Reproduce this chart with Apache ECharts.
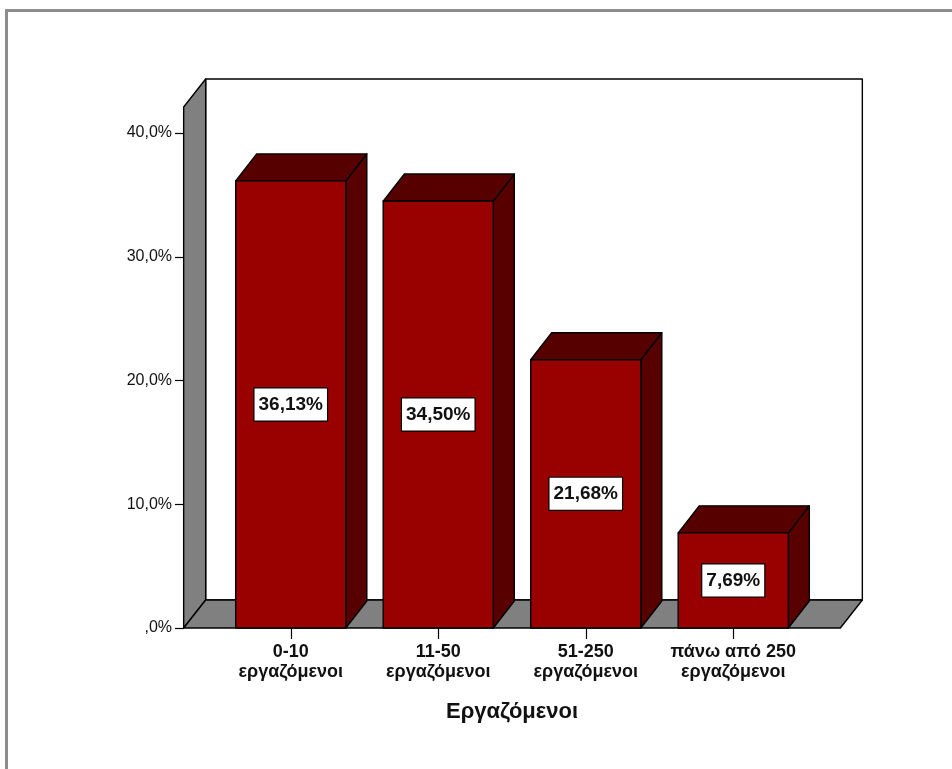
<!DOCTYPE html>
<html>
<head>
<meta charset="utf-8">
<script src="https://cdn.jsdelivr.net/npm/echarts@6/dist/echarts.min.js"></script>
<style>
  html, body { margin: 0; padding: 0; background: #fff; }
  #chart { width: 952px; height: 769px; }
</style>
</head>
<body>
<div id="chart"></div>
<script>
// Share of firms by number of employees
const categories = ['0-10\nεργαζόμενοι', '11-50\nεργαζόμενοι', '51-250\nεργαζόμενοι', 'πάνω από 250\nεργαζόμενοι'];
const percentages = [36.13, 34.50, 21.68, 7.69];
const yTicks = [0, 10, 20, 30, 40];
const axisTitle = 'Εργαζόμενοι';

const FONT = '"Liberation Sans", Arial, Helvetica, sans-serif';
const WALL_DX = 22, WALL_DY = 28;   // receding offset of the back plane
const BAR_DX = 21, BAR_DY = 27;     // receding offset of each bar
const WALL_PAD = 0.226;             // floor overhang beyond the outer bands, in bands
const WALL_TOP = 42.1;              // value reached by the front edge of the side wall
const BAR_FRACTION = 0.7466;        // bar width as a share of the band

function fmtPct(v, digits) {
  let s = Number(v).toFixed(digits).replace('.', ',');
  if (s.indexOf('0,') === 0) s = s.slice(1);
  return s + '%';
}

const edge = { stroke: '#000', lineWidth: 1.4, lineJoin: 'round' };

// side wall, floor and back wall of the 3D box
function renderWalls(params, api) {
  const band = api.size([1, 0])[0];
  const first = api.coord([0, 0]);
  const last = api.coord([categories.length - 1, 0]);
  const x0 = first[0] - band * (0.5 + WALL_PAD);
  const x1 = last[0] + band * (0.5 + WALL_PAD);
  const y0 = first[1];
  const yTop = api.coord([0, WALL_TOP])[1];
  const bx0 = x0 + WALL_DX, bx1 = x1 + WALL_DX;
  const by0 = y0 - WALL_DY, byTop = yTop - WALL_DY;
  return {
    type: 'group',
    children: [
      { type: 'rect', shape: { x: bx0, y: byTop, width: bx1 - bx0, height: by0 - byTop },
        style: Object.assign({ fill: '#fff' }, edge) },
      { type: 'polygon', shape: { points: [[x0, y0], [x0, yTop], [bx0, byTop], [bx0, by0]] },
        style: Object.assign({ fill: '#808080' }, edge) },
      { type: 'polygon', shape: { points: [[x0, y0], [x1, y0], [bx1, by0], [bx0, by0]] },
        style: Object.assign({ fill: '#808080' }, edge) }
    ]
  };
}

// a box-shaped bar with its value label on the front face
function renderBar(params, api) {
  const idx = api.value(0);
  const val = api.value(1);
  const band = api.size([1, 0])[0];
  const w = band * BAR_FRACTION;
  const top = api.coord([idx, val]);
  const base = api.coord([idx, 0]);
  const xl = top[0] - w / 2, xr = top[0] + w / 2;
  const yt = top[1], yb = base[1];
  return {
    type: 'group',
    children: [
      { type: 'polygon',
        shape: { points: [[xr, yt], [xr + BAR_DX, yt - BAR_DY], [xr + BAR_DX, yb - BAR_DY], [xr, yb]] },
        style: Object.assign({ fill: '#580000' }, edge) },
      { type: 'polygon',
        shape: { points: [[xl, yt], [xl + BAR_DX, yt - BAR_DY], [xr + BAR_DX, yt - BAR_DY], [xr, yt]] },
        style: Object.assign({ fill: '#560000' }, edge) },
      { type: 'rect', shape: { x: xl, y: yt, width: w, height: yb - yt },
        style: Object.assign({ fill: '#990000' }, edge) },
      { type: 'text', x: top[0], y: (yt + yb) / 2,
        style: {
          text: fmtPct(val, 2),
          font: 'bold 19px ' + FONT,
          fill: '#111',
          align: 'center',
          verticalAlign: 'middle',
          backgroundColor: '#fff',
          borderColor: '#000',
          borderWidth: 1.2,
          padding: [7, 4, 6, 4]
        } }
    ]
  };
}

const chart = echarts.init(document.getElementById('chart'), null, { renderer: 'canvas' });

chart.setOption({
  backgroundColor: '#fff',
  animation: false,
  graphic: [{
    type: 'rect', left: 4, top: 8, z: -10,
    shape: { x: 0, y: 0, width: 960, height: 780 },
    style: { fill: 'none', stroke: '#8c8c8c', lineWidth: 3 }
  }],
  grid: { left: 217, right: 145, top: 133, bottom: 141 },
  xAxis: {
    type: 'category',
    data: categories,
    axisLine: { show: false },
    axisTick: { show: true, alignWithLabel: true, length: 11, lineStyle: { color: '#000', width: 1.2 } },
    axisLabel: {
      interval: 0, margin: 14, color: '#111',
      fontFamily: FONT, fontWeight: 'bold', fontSize: 18, lineHeight: 20
    },
    splitLine: { show: false },
    name: axisTitle,
    nameLocation: 'middle',
    nameGap: 73,
    nameTextStyle: { color: '#111', fontFamily: FONT, fontWeight: 'bold', fontSize: 22 }
  },
  yAxis: {
    type: 'value',
    min: yTicks[0],
    max: yTicks[yTicks.length - 1],
    interval: yTicks[1] - yTicks[0],
    offset: 33,
    axisLine: { show: false },
    axisTick: { show: true, length: 9, lineStyle: { color: '#000', width: 1.2 } },
    axisLabel: {
      margin: 12, color: '#111', fontFamily: FONT, fontSize: 16,
      formatter: function (v) { return fmtPct(v, 1); }
    },
    splitLine: { show: false }
  },
  series: [
    {
      type: 'custom',
      name: 'walls',
      z: 1,
      silent: true,
      clip: false,
      renderItem: renderWalls,
      data: [[0, 0]]
    },
    {
      type: 'custom',
      name: 'Εργαζόμενοι',
      z: 2,
      clip: false,
      renderItem: renderBar,
      data: percentages.map(function (v, i) { return [i, v]; })
    }
  ]
});
</script>
</body>
</html>
